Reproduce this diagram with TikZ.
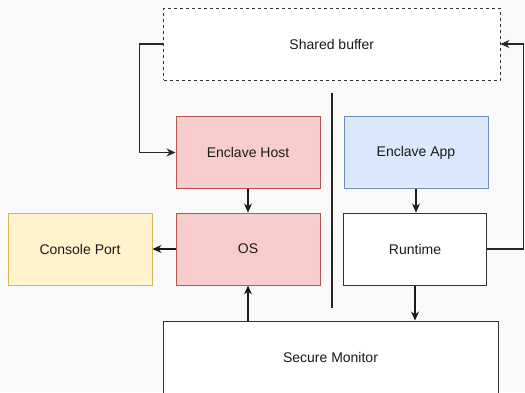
\documentclass[tikz,border=0pt]{standalone}
\usepackage{fontspec}
\setmainfont{Liberation Sans}
\usetikzlibrary{arrows.meta}
\definecolor{bgc}{HTML}{F9F9F9}
\definecolor{redfill}{HTML}{F8CECC}
\definecolor{redline}{HTML}{B85450}
\definecolor{bluefill}{HTML}{DAE8FC}
\definecolor{blueline}{HTML}{6C8EBF}
\definecolor{yelfill}{HTML}{FFF2CC}
\definecolor{yelline}{HTML}{D6B656}
\definecolor{txt}{HTML}{1A1A1A}
\tikzset{
  box/.style={draw=black!80, fill=white, line width=1pt, minimum width=144pt, minimum height=72pt,
    inner sep=0pt, font=\fontsize{14}{16}\selectfont, text=txt},
  hostbox/.style={box, draw=redline, fill=redfill},
  appbox/.style={box, draw=blueline, fill=bluefill},
  portbox/.style={box, draw=yelline, fill=yelfill},
  arr/.style={-{Stealth[length=9pt,width=8pt,inset=3pt]}, line width=1.5pt, black!90},
  thinarr/.style={-{Stealth[length=9pt,width=8pt,inset=3pt]}, line width=1.1pt, black!85},
}
\begin{document}
\begin{tikzpicture}[x=1pt,y=-1pt]
  \fill[bgc] (0,0) rectangle (525,392);
  \useasboundingbox (0,0) rectangle (525,392);
  \clip (0,0) rectangle (525,392);

  % memory shared between the two worlds
  \node[box, dashed, minimum width=336.5pt] (sb) at (331.75,44) {Shared buffer};

  % untrusted side
  \node[hostbox] (eh) at (248,152.5) {Enclave Host};
  \node[hostbox] (os) at (248,249) {OS};
  \node[portbox] (cp) at (80,249) {Console Port};

  % enclave side
  \node[appbox] (ea) at (416,152.5) {Enclave App};
  \node[box, minimum width=143pt] (rt) at (415,249) {Runtime};

  % firmware
  \node[box, minimum width=335pt] (sm) at (330.5,357) {Secure Monitor};

  % separator between host and enclave
  \coordinate (septop) at (332,93);
  \coordinate (sepbot) at (332,308);
  \draw[line width=1.2pt, black!85] (septop) -- (sepbot);

  % connectors
  \draw[thinarr] (sb.west) -- ++(-23.5,0) |- (eh.west);
  \draw[thinarr] (rt.east) -- ++(36.5,0) |- (sb.east);
  \draw[arr] (eh.south) -- (os.north);
  \draw[arr] (ea.south) -- (ea.south |- rt.north);
  \draw[arr] (os.west) -- (cp.east);
  \draw[arr] (os.south |- sm.north) -- (os.south);
  \draw[arr] (rt.south) -- (rt.south |- sm.north);
\end{tikzpicture}
\end{document}
